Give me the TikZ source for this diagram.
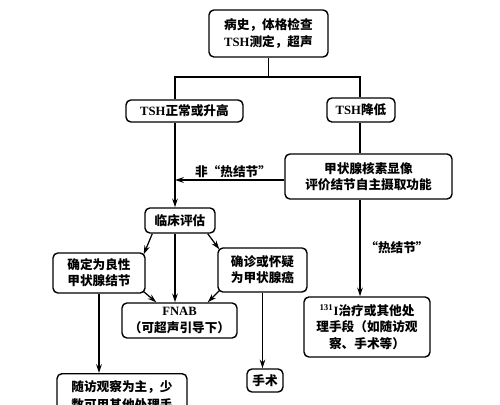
\documentclass[tikz,border=0pt]{standalone}
\usepackage{fontspec}
\setmainfont{Liberation Serif}
\newfontfamily\zhfont{Noto Sans CJK SC}
\usetikzlibrary{arrows.meta,calc}
\newcommand{\rmt}[1]{{\rmfamily\bfseries #1}}
\begin{document}
\begin{tikzpicture}[x=0.02cm,y=-0.02cm,
  txt/.style={font=\zhfont\bfseries\fontsize{7.2}{9.2}\selectfont, align=center, inner sep=0pt},
  box/.style={txt, draw, line width=0.8pt, rounded corners=2.8pt},
  arr/.style={-{Stealth[length=5pt,width=3.2pt]}},
  line width=0.7pt]
\useasboundingbox (0,0) rectangle (500,405);
\fill[white] (0,0) rectangle (500,405);
% nodes
\node[box, minimum width=119*0.02cm, minimum height=47*0.02cm] (b1) at (268.5,33.5) {病史，体格检查\\\rmt{TSH}测定，超声};
\node[box, minimum width=117*0.02cm, minimum height=22*0.02cm] (b2) at (184.5,111) {\rmt{TSH}正常或升高};
\node[box, minimum width=68*0.02cm, minimum height=24*0.02cm] (b3) at (361,110) {\rmt{TSH}降低};
\node[box, minimum width=167*0.02cm, minimum height=45*0.02cm] (b4) at (368.5,176.5) {甲状腺核素显像\\评价结节自主摄取功能};
\node[box, minimum width=70*0.02cm, minimum height=25*0.02cm] (b5) at (180,220.5) {临床评估};
\node[box, minimum width=92*0.02cm, minimum height=40*0.02cm] (b6) at (99,273) {确定为良性\\甲状腺结节};
\node[box, minimum width=89*0.02cm, minimum height=44*0.02cm] (b7) at (262.5,270) {确诊或怀疑\\为甲状腺癌};
\node[box, minimum width=115*0.02cm, minimum height=35*0.02cm] (fn) at (179.5,320.5) {\rmt{FNAB}\\（可超声引导下）};
\node[box, minimum width=126*0.02cm, minimum height=60*0.02cm] (b8) at (367,327) {\textsuperscript{\rmt{131}}\rmt{I}治疗或其他处\\理手段（如随访观\\察、手术等）};
\node[box, minimum width=36*0.02cm, minimum height=23*0.02cm] (ss) at (265,380.5) {手术};
\node[box, minimum width=130*0.02cm, minimum height=60*0.02cm, anchor=north] (bt) at (122,373) {};
\node[txt, anchor=north, font=\zhfont\bfseries\fontsize{7.2}{10}\selectfont] (btt) at (122,380) {随访观察为主，少\\数可用其他处理手};
% labels
\node[txt] (l1) at (233,172) {非“热结节”};
\node[txt] (l2) at (397,248) {“热结节”};
% junction coordinates
\coordinate (jl) at (175,77);
\coordinate (jr) at (360,77);
% connectors
\draw (b1.south) -- (b1.south |- jl);
\draw (jl |- b2.north) -- (jl) -- (jr) -- (jr |- b3.north);
\draw[arr] (jl |- b2.south) -- (jl |- b5.north);
\draw[arr] (b4.west |- 0,180) -- (jl |- 0,180);
\draw (jr |- b3.south) -- (jr |- b4.north);
\draw[arr] (jr |- b4.south) -- (jr |- b8.north);
\draw[arr] ($(b5.south west)+(8,0)$) -- ($(b6.north east)+(-2,2)$);
\draw[arr] ($(b5.south east)+(-8,0)$) -- ($(b7.north west)+(2,2)$);
\draw[arr] (jl |- b5.south) -- (jl |- fn.north);
\draw[arr] ($(b6.south east)+(-2,-2)$) -- ($(fn.north west)+(35,0)$);
\draw[arr] ($(b7.south west)+(2,-2)$) -- ($(fn.north east)+(-30,0)$);
\draw[arr] (b6.south) -- (b6.south |- bt.north);
\draw[arr] (b7.south) -- (b7.south |- ss.north);
\end{tikzpicture}
\end{document}
